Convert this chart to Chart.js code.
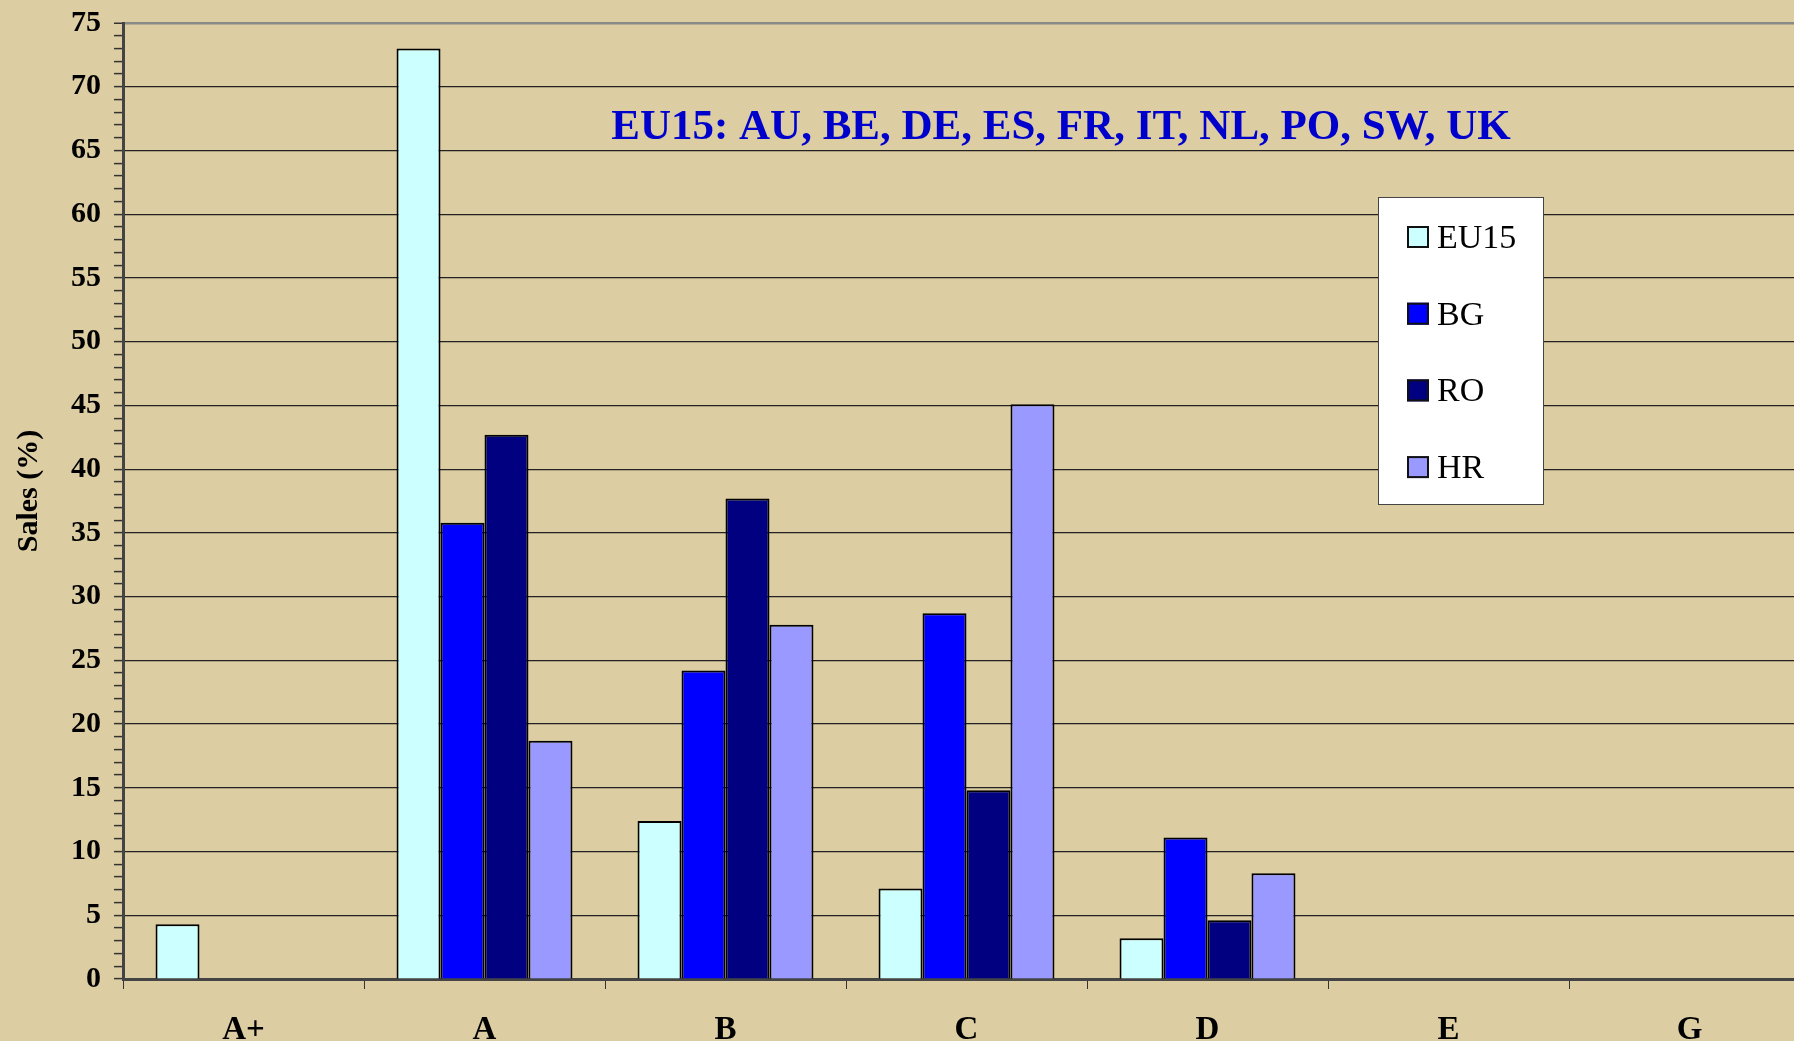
<!DOCTYPE html>
<html>
<head>
<meta charset="utf-8">
<script src="https://cdn.jsdelivr.net/npm/chart.js@4"></script>
<style>
  html, body { margin: 0; padding: 0; overflow: hidden; background: #DCCDA2; }
  #wrap { width: 1810px; height: 1041px; position: relative; }
</style>
</head>
<body>
<div id="wrap"><canvas id="myChart"></canvas></div>
<script>
const categories = ['A+', 'A', 'B', 'C', 'D', 'E', 'G'];
const eu15Values = [4.3, 73.0, 12.4, 7.1, 3.2, null, null];
const bgValues = [null, 35.8, 24.2, 28.7, 11.1, null, null];
const roValues = [null, 42.7, 37.7, 14.8, 4.6, null, null];
const hrValues = [null, 18.7, 27.8, 45.1, 8.3, null, null];
const seriesNames = ['EU15', 'BG', 'RO', 'HR'];
const seriesColors = ['#CCFFFF', '#0000FF', '#000080', '#9999FF'];
const chartTitle = 'EU15: AU, BE, DE, ES, FR, IT, NL, PO, SW, UK';
const yTitle = 'Sales (%)';

const serif = '"Liberation Serif", "Times New Roman", serif';

// title, y title and legend box drawn over the plot
const insidePlugin = {
  id: 'inside',
  afterDraw(chart) {
    const ctx = chart.ctx;
    ctx.save();
    ctx.fillStyle = '#0000CC';
    ctx.font = 'bold 43px ' + serif;
    ctx.textAlign = 'center';
    ctx.textBaseline = 'middle';
    ctx.fillText(chartTitle, 1061, 128);

    // y title
    ctx.save();
    ctx.translate(29, 491);
    ctx.rotate(-Math.PI / 2);
    ctx.fillStyle = '#000';
    ctx.font = 'bold 30px ' + serif;
    ctx.fillText(yTitle, 0, 0);
    ctx.restore();

    // legend
    ctx.fillStyle = '#FFFFFF';
    ctx.fillRect(1378, 197, 166, 308);
    ctx.strokeStyle = '#444';
    ctx.lineWidth = 1;
    ctx.strokeRect(1378.5, 197.5, 165, 307);
    ctx.font = '34px ' + serif;
    ctx.textAlign = 'left';
    chart.data.datasets.forEach((ds, i) => {
      const cy = 237 + i * 76.7;
      ctx.fillStyle = ds.backgroundColor;
      ctx.fillRect(1407, cy - 11, 22, 22);
      ctx.lineWidth = 2;
      ctx.strokeStyle = '#111';
      ctx.strokeRect(1408, cy - 10, 20, 20);
      ctx.fillStyle = '#000';
      ctx.fillText(ds.label, 1437, cy + 2);
    });
    ctx.restore();
  }
};

const datasets = [eu15Values, bgValues, roValues, hrValues].map((vals, i) => ({
  label: seriesNames[i],
  data: vals,
  backgroundColor: seriesColors[i],
  borderColor: '#000',
  borderWidth: 2,
  categoryPercentage: 0.73,
  barPercentage: 1
}));

new Chart('myChart', {
  type: 'bar',
  data: { labels: categories, datasets: datasets },
  plugins: [insidePlugin],
  options: {
    responsive: true,
    maintainAspectRatio: false,
    animation: false,
    layout: { padding: { top: 23, right: 0, left: 0, bottom: 0 } },
    plugins: {
      legend: { display: false },
      tooltip: { enabled: false }
    },
    scales: {
      x: {
        afterFit: (scale) => {
          scale.height = 62;
          scale.paddingLeft = 0;
          scale.paddingRight = 0;
        },
        grid: {
          offset: true,
          drawOnChartArea: false,
          color: '#333',
          tickLength: 10
        },
        border: { color: '#444', width: 3 },
        ticks: {
          color: '#000',
          padding: 22,
          font: { family: serif, size: 33, weight: 'bold' }
        }
      },
      y: {
        min: 0,
        max: 75,
        afterFit: (scale) => {
          scale.width = 123;
          scale.paddingTop = 0;
          scale.paddingBottom = 0;
        },
        ticks: {
          stepSize: 1,
          autoSkip: false,
          padding: 13,
          color: '#000',
          font: { family: serif, size: 30, weight: 'bold' },
          callback: (v) => (v % 5 === 0 ? v : '')
        },
        grid: {
          color: (c) => {
            const v = c.tick ? c.tick.value : 0;
            if (v % 5 !== 0) return 'rgba(0,0,0,0)';
            return v === 75 ? '#8a8a8a' : '#222';
          },
          lineWidth: (c) => (c.tick && c.tick.value === 75 ? 2.5 : 1.2),
          tickColor: '#333',
          tickWidth: 1.5,
          tickLength: 9
        },
        border: { color: '#444', width: 3 }
      }
    }
  }
});
</script>
</body>
</html>
